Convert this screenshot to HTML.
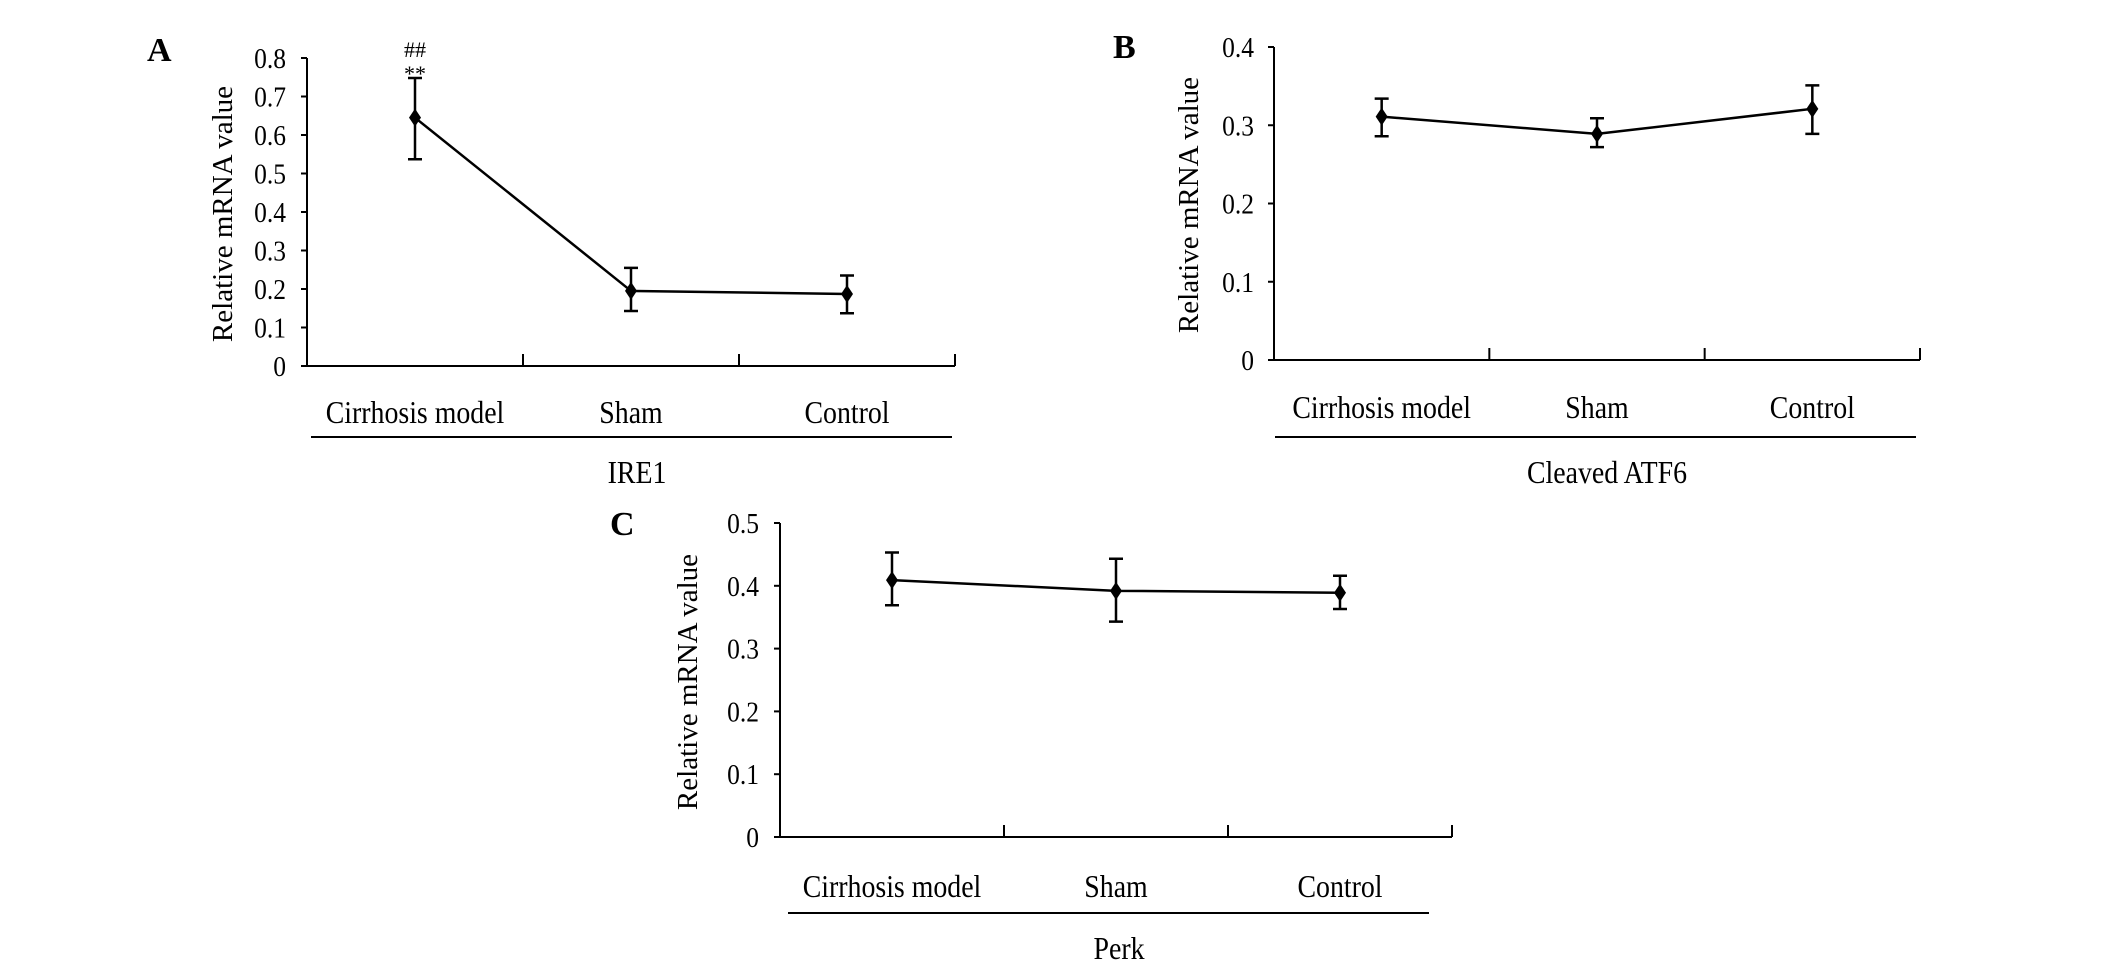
<!DOCTYPE html>
<html><head><meta charset="utf-8"><style>
html,body{margin:0;padding:0;background:#fff;}
svg{display:block;}
text{font-family:"Liberation Serif",serif;fill:#000;}
</style></head><body>
<svg id="fig" width="2126" height="978" viewBox="0 0 2126 978" xmlns="http://www.w3.org/2000/svg"></svg>
<script>
const categories = ["Cirrhosis model", "Sham", "Control"];
const ireMeans = [0.645, 0.195, 0.187];
const ireHi = [0.748, 0.255, 0.235];
const ireLo = [0.537, 0.143, 0.137];
const ireTicks = ["0","0.1","0.2","0.3","0.4","0.5","0.6","0.7","0.8"];
const atfMeans = [0.311, 0.289, 0.321];
const atfHi = [0.334, 0.309, 0.351];
const atfLo = [0.286, 0.272, 0.289];
const atfTicks = ["0","0.1","0.2","0.3","0.4"];
const perkMeans = [0.409, 0.392, 0.389];
const perkHi = [0.453, 0.443, 0.416];
const perkLo = [0.369, 0.343, 0.363];
const perkTicks = ["0","0.1","0.2","0.3","0.4","0.5"];

const NS = "http://www.w3.org/2000/svg";
const svg = document.getElementById('fig');
function mk(tag, attrs, parent, txt) {
  const e = document.createElementNS(NS, tag);
  for (const k in attrs) e.setAttribute(k, attrs[k]);
  if (txt !== undefined) e.textContent = txt;
  parent.appendChild(e);
  return e;
}
function txt(parent, x, y, size, anchor, s, sx) {
  return mk('text', {transform: `translate(${x},${y}) scale(${sx},1)`, 'font-size': size, 'text-anchor': anchor}, parent, s);
}

function panel(cfg) {
  const g = mk('g', {}, svg);
  
  
  const ymax = parseFloat(cfg.ticks[cfg.ticks.length - 1]);
  const y = v => cfg.y0 - (v / ymax) * (cfg.y0 - cfg.yTop);
  const step = (cfg.xEnd - cfg.x0) / categories.length;
  const x = i => cfg.x0 + step * (i + 0.5);
  const L = mk('text', {x: cfg.letterX, y: cfg.letterY, 'font-size': 34, 'font-weight': 'bold'}, g, cfg.letter);
  
  
  const ax = mk('path', {d: `M${cfg.x0},${cfg.yTop}V${cfg.y0}H${cfg.xEnd}`, stroke: '#000', 'stroke-width': 2, fill: 'none'}, g);
  
  
  cfg.ticks.forEach(t => {
    const yy = y(parseFloat(t));
    const tk = mk('line', {x1: cfg.x0 - 6, x2: cfg.x0, y1: yy, y2: yy, stroke: '#000', 'stroke-width': 2}, g);
    
    
    const tl = txt(g, cfg.labelR, yy + 10, 29, 'end', t, 0.88);
    
    
  });
  for (let i = 1; i <= categories.length; i++) {
    const xx = cfg.x0 + step * i;
    const tk = mk('line', {x1: xx, x2: xx, y1: cfg.y0 - 12, y2: cfg.y0, stroke: '#000', 'stroke-width': 2}, g);
    
    
  }
  const yt = mk('text', {transform: `translate(${cfg.titleX},${cfg.titleY}) rotate(-90)`, 'font-size': 29, 'text-anchor': 'middle', 'font-family': '"Liberation Sans",sans-serif'}, g, 'Relative mRNA value');
  
  
  categories.forEach((c, i) => {
    const cl = txt(g, x(i), cfg.catY + 10, 32, 'middle', c, 0.87);
    
    
  });
  const br = mk('line', {x1: cfg.brX1, x2: cfg.brX2, y1: cfg.brY, y2: cfg.brY, stroke: '#000', 'stroke-width': 2}, g);
  
  
  const gt = txt(g, cfg.groupX, cfg.brY + 46, 32, 'middle', cfg.group, 0.87);
  
  
  const pts = cfg.means.map((m, i) => `${x(i)},${y(m)}`).join(' ');
  const ln = mk('polyline', {points: pts, fill: 'none', stroke: '#000', 'stroke-width': 2.5}, g);
  
  
  cfg.means.forEach((m, i) => {
    const xx = x(i);
    const eb = mk('path', {d: `M${xx},${y(cfg.hi[i])}V${y(cfg.lo[i])}M${xx-7},${y(cfg.hi[i])}H${xx+7}M${xx-7},${y(cfg.lo[i])}H${xx+7}`, stroke: '#000', 'stroke-width': 2.5, fill: 'none'}, g);
    
    
    const yy = y(m);
    const pt = mk('polygon', {points: `${xx},${yy-9} ${xx+6},${yy} ${xx},${yy+9} ${xx-6},${yy}`, fill: '#000'}, g);
    
    
  });
  return {x, y, g};
}

const A = panel({name: 'panel-a-ire1', letter: 'A', letterX: 147, letterY: 61, x0: 307, xEnd: 955, y0: 366, yTop: 58, labelR: 286,
  ticks: ireTicks, means: ireMeans, hi: ireHi, lo: ireLo, titleX: 232, titleY: 214, catY: 413, brY: 437, brX1: 311, brX2: 952, groupX: 637, group: 'IRE1'});
const s1 = txt(A.g, A.x(0), 57, 22, 'middle', '##', 1);
s1.setAttribute('fill', '#333');


const s2 = txt(A.g, A.x(0), 81, 22, 'middle', '**', 1);
s2.setAttribute('fill', '#333');



panel({name: 'panel-b-atf6', letter: 'B', letterX: 1113, letterY: 58, x0: 1274, xEnd: 1920, y0: 360, yTop: 47, labelR: 1254,
  ticks: atfTicks, means: atfMeans, hi: atfHi, lo: atfLo, titleX: 1198, titleY: 205, catY: 408, brY: 437, brX1: 1275, brX2: 1916, groupX: 1607, group: 'Cleaved ATF6'});

panel({name: 'panel-c-perk', letter: 'C', letterX: 610, letterY: 535, x0: 780, xEnd: 1452, y0: 837, yTop: 523, labelR: 759,
  ticks: perkTicks, means: perkMeans, hi: perkHi, lo: perkLo, titleX: 697, titleY: 682, catY: 887, brY: 913, brX1: 788, brX2: 1429, groupX: 1119, group: 'Perk'});
</script>
</body></html>
